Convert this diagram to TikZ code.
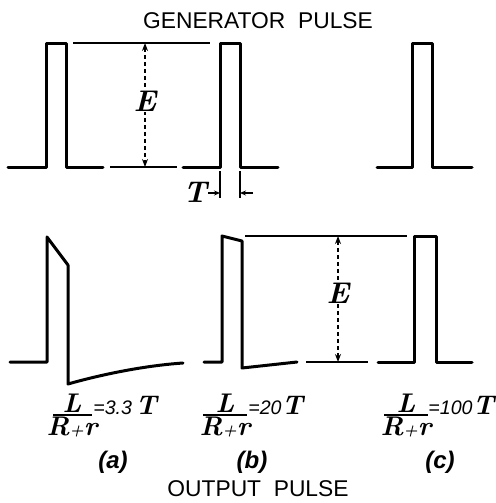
\documentclass[tikz,border=0pt]{standalone}
\usepackage{fontspec}
\newfontfamily\labelsans{Liberation Sans}
\usetikzlibrary{arrows.meta}
\newcommand{\ratiotext}[1]{{\labelsans\itshape\fontsize{9.8}{12}\selectfont =#1}{\bfseries\itshape\fontsize{13.5}{15}\selectfont T}}
\begin{document}
\begin{tikzpicture}[x=0.5pt,y=-0.5pt,
  pulse/.style={line width=1.5pt, line join=round, line cap=round},
  guide/.style={line width=0.7pt},
  dimarrow/.style={line width=0.9pt, dash pattern=on 2.2pt off 1.3pt,
     {Stealth[length=4pt,width=3pt]}-{Stealth[length=4pt,width=3pt]}},
  tick/.style={line width=0.6pt},
  tarrow/.style={line width=0.6pt, -{Stealth[length=3pt,width=2.5pt]}},
  title/.style={font=\labelsans\fontsize{11.4}{13}\selectfont, inner sep=0},
  sym/.style={font=\bfseries\itshape\fontsize{15}{17}\selectfont, inner sep=0.5pt, fill=white},
  frac/.style={font=\bfseries\itshape\fontsize{13.5}{15}\selectfont, inner sep=0},
  ratio/.style={inner sep=0, anchor=west},
  case/.style={font=\labelsans\bfseries\itshape\fontsize{12}{14}\selectfont, inner sep=0},
  fbar/.style={line width=0.8pt}
]
\useasboundingbox (0,0) rectangle (496,503);

% titles
\node[title] (gen) at (258,21) {GENERATOR\ \ PULSE};
\node[title] (out) at (258,489) {OUTPUT\ \ PULSE};

% generator pulses
\draw[pulse] (8,167) -- (46,167) -- (46,43) -- (66,43) -- (66,167) -- (103,167);
\draw[guide] (73,43) -- (210,43);
\draw[guide] (110,167) -- (177,167);
\draw[pulse] (183,167) -- (220,167) -- (220,43) -- (240,43) -- (240,167) -- (278,167);
\draw[pulse] (377,167) -- (412,167) -- (412,43) -- (432,43) -- (432,167) -- (472,167);

% E dimension (top)
\coordinate (e1t) at (145,43);
\coordinate (e1b) at (145,167);
\draw[dimarrow] (e1t) -- (e1b);
\node[sym] (E1) at (145,101) {E};

% T dimension
\coordinate (t1a) at (220,171);
\coordinate (t1b) at (220,198);
\coordinate (t2a) at (240,171);
\coordinate (t2b) at (240,198);
\draw[tick] (t1a) -- (t1b);
\draw[tick] (t2a) -- (t2b);
\coordinate (ta0) at (207,193);
\coordinate (ta1) at (220,193);
\coordinate (tb0) at (253,193);
\coordinate (tb1) at (240,193);
\draw[tarrow] (ta0) -- (ta1);
\draw[tarrow] (tb0) -- (tb1);
\node[sym] (T) at (195,192) {T};

% output pulses
\draw[pulse] (10,362) -- (47,362) -- (47,237) -- (68,265) -- (68,384)
   .. controls (96,376) and (140,366) .. (183,363);
\draw[pulse] (204,362) -- (222,362) -- (222,236) -- (242,241) -- (242,368) -- (297,362);
\draw[guide] (245,236) -- (407,236);
\draw[guide] (306,362) -- (368,362);
\draw[pulse] (378,362) -- (414,362) -- (414,236) -- (436,236) -- (436,362) -- (472,362);

% E dimension (bottom)
\coordinate (e2t) at (338,236);
\coordinate (e2b) at (338,362);
\draw[dimarrow] (e2t) -- (e2b);
\node[sym] (E2) at (338,293) {E};

% ratios
\node[frac] (La) at (72,403) {L};
\draw[fbar] (53,415) -- (92,415);
\node[frac] (Ra) at (72,427) {R{\fontsize{8}{9}\selectfont+}r};
\node[ratio] (qa) at (93,405) {\ratiotext{3.3\,}};

\node[frac] (Lb) at (225,403) {L};
\draw[fbar] (203,415) -- (247,415);
\node[frac] (Rb) at (225,427) {R{\fontsize{8}{9}\selectfont+}r};
\node[ratio] (qb) at (248,405) {\ratiotext{20}};

\node[frac] (Lc) at (406,403) {L};
\draw[fbar] (384,415) -- (428,415);
\node[frac] (Rc) at (406,427) {R{\fontsize{8}{9}\selectfont+}r};
\node[ratio] (qc) at (428,405) {\ratiotext{100}};

% case labels
\node[case] (ca) at (113,462) {(a)};
\node[case] (cb) at (252,462) {(b)};
\node[case] (cc) at (440,462) {(c)};
\end{tikzpicture}
\end{document}
